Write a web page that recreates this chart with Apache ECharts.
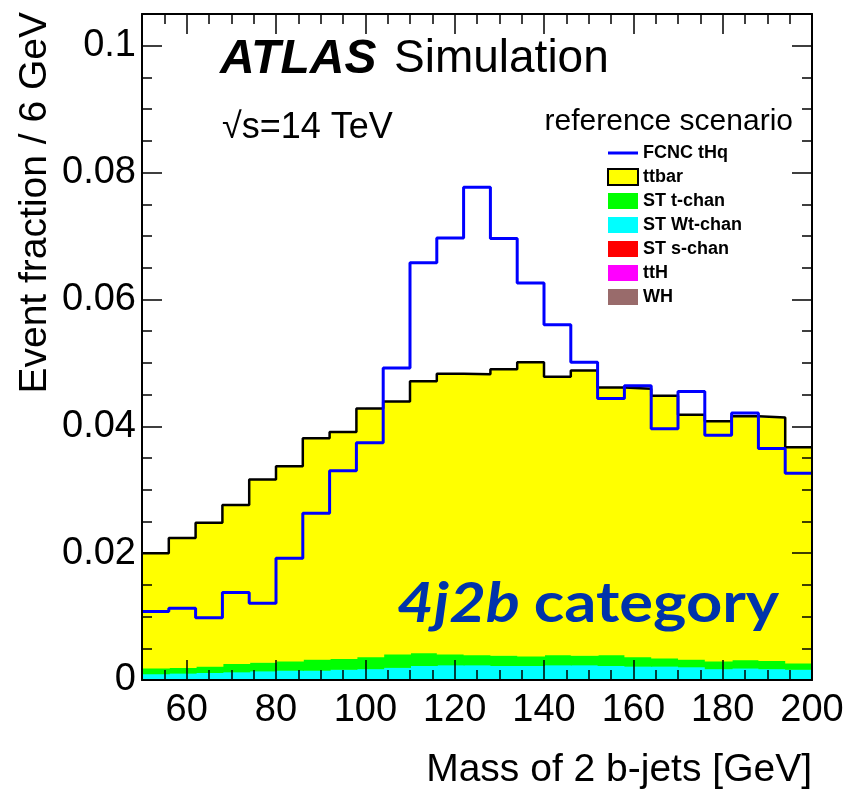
<!DOCTYPE html>
<html>
<head>
<meta charset="utf-8">
<script src="https://cdn.jsdelivr.net/npm/echarts@6/dist/echarts.min.js"></script>
<style>
html, body { margin: 0; padding: 0; background: #fff; }
#chart { width: 848px; height: 791px; }
</style>
</head>
<body>
<div id="chart"></div>
<script>
// lower edges of the 6 GeV bins
const binLow = [50, 56, 62, 68, 74, 80, 86, 92, 98, 104, 110, 116, 122, 128, 134, 140, 146, 152, 158, 164, 170, 176, 182, 188, 194]
const binWidth = 6

const xTicks = [60, 80, 100, 120, 140, 160, 180, 200]
const yTicks = [0, 0.02, 0.04, 0.06, 0.08, 0.1]

// signal
const fcnc = [0.0108, 0.0113, 0.0098, 0.0138, 0.0121, 0.0192, 0.0263, 0.0330, 0.0374, 0.0492, 0.0658, 0.0697, 0.0777, 0.0696, 0.0626, 0.0560, 0.0501, 0.0444, 0.0464, 0.0396, 0.0455, 0.0386, 0.0421, 0.0365, 0.0326]

// backgrounds (own contribution, stacked bottom-up: WH, ttH, s-chan, Wt-chan, t-chan, ttbar)
const ttbar = [0.0181, 0.0204, 0.0226, 0.0250, 0.0288, 0.0307, 0.0348, 0.0357, 0.0391, 0.0398, 0.0428, 0.0442, 0.0442, 0.0451, 0.0463, 0.0438, 0.0449, 0.0421, 0.0422, 0.0413, 0.0385, 0.0378, 0.0384, 0.0383, 0.0340]
const stTchan = [0.0009, 0.0009, 0.0010, 0.0013, 0.00135, 0.00145, 0.00175, 0.0017, 0.0019, 0.0021, 0.0020, 0.0017, 0.0016, 0.0016, 0.0015, 0.0016, 0.0015, 0.0017, 0.0015, 0.0013, 0.0012, 0.0012, 0.0013, 0.0013, 0.0010]
const stWt = [0.00087, 0.00097, 0.00106, 0.00115, 0.00129, 0.00138, 0.00136, 0.0015, 0.00159, 0.00179, 0.00208, 0.00218, 0.00218, 0.00208, 0.00209, 0.00219, 0.00219, 0.0021, 0.0020, 0.00201, 0.00192, 0.00162, 0.00173, 0.00163, 0.00154]
const stSchan = [0.00006, 0.00006, 0.00007, 0.00008, 0.00009, 0.0001, 0.0001, 0.00011, 0.00012, 0.00012, 0.00013, 0.00013, 0.00013, 0.00013, 0.00012, 0.00012, 0.00012, 0.00011, 0.00011, 0.0001, 0.0001, 0.0001, 0.00009, 0.00009, 0.00008]
const ttH = [0.00004, 0.00004, 0.00004, 0.00004, 0.00004, 0.00004, 0.00005, 0.00005, 0.00005, 0.00005, 0.00005, 0.00005, 0.00005, 0.00005, 0.00005, 0.00005, 0.00005, 0.00005, 0.00005, 0.00005, 0.00004, 0.00004, 0.00004, 0.00004, 0.00004]
const wh = [0.00003, 0.00003, 0.00003, 0.00003, 0.00003, 0.00003, 0.00004, 0.00004, 0.00004, 0.00004, 0.00004, 0.00004, 0.00004, 0.00004, 0.00004, 0.00004, 0.00004, 0.00004, 0.00004, 0.00004, 0.00004, 0.00004, 0.00004, 0.00004, 0.00004]

const FONT = '"Liberation Sans", Arial, Helvetica, sans-serif'

const stackList = [
    { name: 'WH', values: wh, color: '#996b6b' },
    { name: 'ttH', values: ttH, color: '#ff00ff' },
    { name: 'ST s-chan', values: stSchan, color: '#ff0000' },
    { name: 'ST Wt-chan', values: stWt, color: '#00ffff' },
    { name: 'ST t-chan', values: stTchan, color: '#00ff00' },
    { name: 'ttbar', values: ttbar, color: '#ffff00' }
]

// stacked fills
const base = binLow.map(() => 0)
const fillSeries = stackList.map((s) => {
    const data = binLow.map((lo, i) => {
        const y0 = base[i]
        const y1 = y0 + s.values[i]
        base[i] = y1
        return [lo, lo + binWidth, y0, y1]
    })
    return {
        name: s.name,
        type: 'custom',
        z: 2,
        itemStyle: { color: s.color },
        encode: { x: [0, 1], y: [2, 3] },
        data: data,
        renderItem: function (params, api) {
            const p0 = api.coord([api.value(0), api.value(3)])
            const p1 = api.coord([api.value(1), api.value(2)])
            return {
                type: 'rect',
                shape: { x: p0[0], y: p0[1], width: p1[0] - p0[0] + 1, height: p1[1] - p0[1] + 0.6 },
                style: { fill: api.visual('color') }
            }
        }
    }
})

// step outlines
function stepData(vals) {
    const d = binLow.map((lo, i) => [lo, vals[i]])
    d.push([binLow[binLow.length - 1] + binWidth, vals[vals.length - 1]])
    return d
}
const total = base.slice()

function tickAxis(position, len, extra) {
    return Object.assign({
        type: 'value',
        position: position,
        z: 10,
        axisLine: { show: false, onZero: false },
        axisTick: { show: true, inside: true, length: len, lineStyle: { color: '#000', width: 1.5 } },
        axisLabel: { show: false },
        splitLine: { show: false }
    }, extra)
}

const chart = echarts.init(document.getElementById('chart'))
const option = {
    backgroundColor: '#fff',
    animation: false,
    textStyle: { fontFamily: FONT },
    grid: { left: 142, right: 36, top: 14, bottom: 111, outerBoundsMode: 'none', containLabel: false },
    xAxis: [
        tickAxis('bottom', 20, {
            min: 50, max: 200,
            axisLine: { show: true, onZero: false, lineStyle: { color: '#000', width: 2 } },
            axisTick: { show: true, inside: true, length: 20, customValues: xTicks, lineStyle: { color: '#000', width: 1.5 } },
            axisLabel: { show: true, customValues: xTicks, margin: 12, color: '#000', fontSize: 38, fontFamily: FONT }
        }),
        tickAxis('bottom', 10, { min: 50, max: 200, interval: 5 }),
        tickAxis('top', 20, {
            min: 50, max: 200,
            axisLine: { show: true, onZero: false, lineStyle: { color: '#000', width: 2 } },
            axisTick: { show: true, inside: true, length: 20, customValues: xTicks, lineStyle: { color: '#000', width: 1.5 } }
        }),
        tickAxis('top', 10, { min: 50, max: 200, interval: 5 })
    ],
    yAxis: [
        tickAxis('left', 20, {
            min: 0, max: 0.105,
            axisLine: { show: true, onZero: false, lineStyle: { color: '#000', width: 2 } },
            axisTick: { show: true, inside: true, length: 20, customValues: yTicks, lineStyle: { color: '#000', width: 1.5 } },
            axisLabel: { show: true, customValues: yTicks, margin: 6, color: '#000', fontSize: 38, fontFamily: FONT }
        }),
        tickAxis('left', 10, { min: 0, max: 0.105, interval: 0.005 }),
        tickAxis('right', 20, {
            min: 0, max: 0.105,
            axisLine: { show: true, onZero: false, lineStyle: { color: '#000', width: 2 } },
            axisTick: { show: true, inside: true, length: 20, customValues: yTicks, lineStyle: { color: '#000', width: 1.5 } }
        }),
        tickAxis('right', 10, { min: 0, max: 0.105, interval: 0.005 })
    ],
    legend: {
        orient: 'vertical',
        left: 607,
        top: 144,
        padding: 0,
        itemWidth: 30,
        itemHeight: 16,
        itemGap: 6,
        selectedMode: false,
        textStyle: { fontSize: 18, fontWeight: 'bold', fontFamily: FONT, color: '#000', lineHeight: 18 },
        data: [
            { name: 'FCNC tHq', icon: 'path://M0,0H30V3H0Z', itemStyle: { color: '#0000ff' } },
            { name: 'ttbar', icon: 'rect', itemStyle: { borderColor: '#000', borderWidth: 2 } },
            { name: 'ST t-chan', icon: 'rect' },
            { name: 'ST Wt-chan', icon: 'rect' },
            { name: 'ST s-chan', icon: 'rect' },
            { name: 'ttH', icon: 'rect' },
            { name: 'WH', icon: 'rect' }
        ]
    },
    graphic: [
        {
            type: 'text', left: 220, top: 36, z: 20,
            style: { text: 'ATLAS', font: 'italic bold 48px ' + FONT, fill: '#000' }
        },
        {
            type: 'text', left: 394, top: 36, z: 20,
            style: { text: 'Simulation', font: '46px ' + FONT, fill: '#000' }
        },
        {
            type: 'text', left: 222, top: 110, z: 20,
            style: { text: '√s=14 TeV', font: '36px ' + FONT, fill: '#000' }
        },
        {
            type: 'text', right: 55, top: 107, z: 20,
            style: { text: 'reference scenario', font: '30px ' + FONT, fill: '#000' }
        },
        {
            type: 'text', x: 397, y: 576, scaleX: 1.13, z: 20,
            style: {
                text: '{i|4j2b }{n|category}',
                verticalAlign: 'top',
                rich: {
                    i: { font: 'italic bold 56px Lato, "Noto Sans", sans-serif', fill: '#0033aa' },
                    n: { font: 'bold 56px Lato, "Noto Sans", sans-serif', fill: '#0033aa' }
                }
            }
        },
        {
            type: 'text', right: 36, top: 751, z: 20,
            style: { text: 'Mass of 2 b-jets [GeV]', font: '39px ' + FONT, fill: '#000' }
        },
        {
            type: 'text', x: 35, y: 12, rotation: Math.PI / 2, z: 20,
            style: { text: 'Event fraction / 6 GeV', font: '39px ' + FONT, fill: '#000', align: 'right', verticalAlign: 'middle' }
        }
    ],
    series: fillSeries.concat([
        {
            name: 'total',
            type: 'line',
            z: 3,
            step: 'end',
            symbol: 'none',
            data: stepData(total),
            lineStyle: { color: '#000', width: 2.5 },
            itemStyle: { color: '#000' }
        },
        {
            name: 'FCNC tHq',
            type: 'line',
            z: 4,
            step: 'end',
            symbol: 'none',
            data: stepData(fcnc),
            lineStyle: { color: '#0000ff', width: 3 },
            itemStyle: { color: '#0000ff' }
        }
    ])
}
chart.setOption(option)
</script>
</body>
</html>
